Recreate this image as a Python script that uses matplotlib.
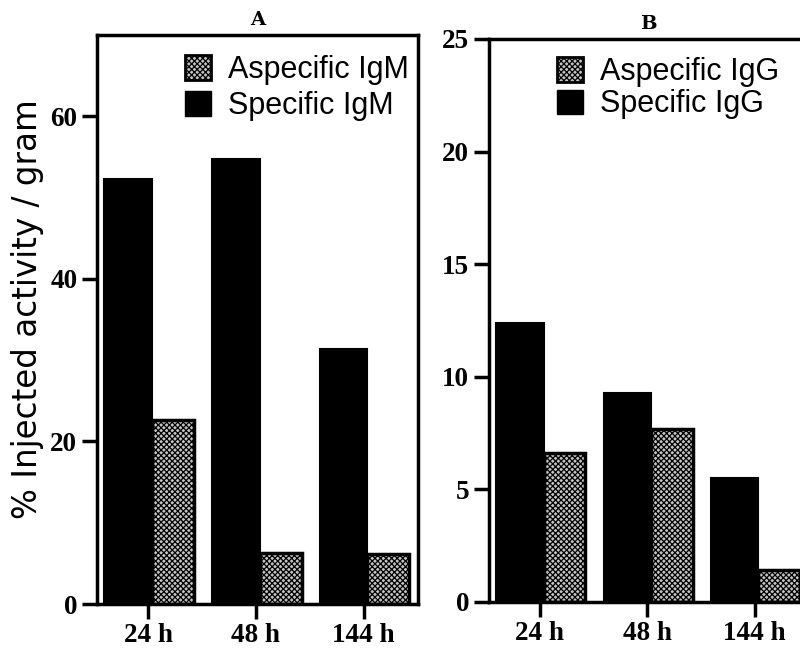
import matplotlib
matplotlib.use("Agg")
import matplotlib.pyplot as plt
from matplotlib.patches import Patch
import numpy as np

# Data
times = ["24 h", "48 h", "144 h"]
igm_specific = [52.3, 54.7, 31.4]
igm_aspecific = [22.6, 6.3, 6.2]
igg_specific = [12.4, 9.3, 5.5]
igg_aspecific = [6.6, 7.7, 1.4]

plt.rcParams["hatch.linewidth"] = 0.9
plt.rcParams["hatch.color"] = "black"

fig = plt.figure(figsize=(8, 6.52), dpi=100)
axA = fig.add_axes([0.121, 0.0736, 0.4015, 0.8727])
axB = fig.add_axes([0.611, 0.0767, 0.400, 0.8635])

tick_font = dict(family="Liberation Serif", size=19.5, weight="bold")
legend_font = dict(family="Liberation Sans", size=22)
asp_fill = "#c4c4c4"

x = np.arange(len(times))
w_spec, w_asp = 0.44, 0.39


def draw_panel(ax, spec, asp, ylim, yticks, title, labels, legend_anchor, spacing):
    ax.bar(x - w_spec / 2, spec, width=w_spec, color="black", edgecolor="black",
           linewidth=1.5)
    ax.bar(x + w_asp / 2, asp, width=w_asp, color=asp_fill, edgecolor="black",
           hatch="xxxxxx", linewidth=2.5)
    ax.set_xlim(-0.51, 2.47)
    ax.set_ylim(*ylim)
    ax.set_yticks(yticks)
    ax.set_yticklabels([str(t) for t in yticks], fontdict=tick_font)
    ax.set_xticks(x - 0.035)
    ax.set_xticklabels(times, fontdict=tick_font)
    ax.tick_params(axis="both", direction="out", length=11, width=2.5, pad=3)
    for s in ax.spines.values():
        s.set_linewidth(2.5)
    ax.set_title(title, family="DejaVu Serif", weight="bold", size=14, pad=7)
    handles = [Patch(facecolor=asp_fill, edgecolor="black", hatch="xxxxxx", linewidth=2),
               Patch(facecolor="black", edgecolor="black")]
    ax.legend(handles, labels, loc="upper left", bbox_to_anchor=legend_anchor,
              bbox_transform=fig.transFigure, frameon=False, prop=legend_font,
              handlelength=0.85, handleheight=0.85, handletextpad=0.55,
              labelspacing=spacing, borderpad=0, borderaxespad=0)


draw_panel(axA, igm_specific, igm_aspecific, (0, 70), [0, 20, 40, 60], "A",
           ["Aspecific IgM", "Specific IgM"], (185 / 800, 1 - 55 / 652), 0.2)
draw_panel(axB, igg_specific, igg_aspecific, (0, 25), [0, 5, 10, 15, 20, 25], "B",
           ["Aspecific IgG", "Specific IgG"], (557 / 800, 1 - 57 / 652), 0.08)
axB.spines["right"].set_visible(False)

fig.text(0.034, 0.526, "% Injected activity / gram", rotation=90, ha="center",
         va="center", family="DejaVu Sans", size=23.5)

fig.savefig("out.png", dpi=100)
